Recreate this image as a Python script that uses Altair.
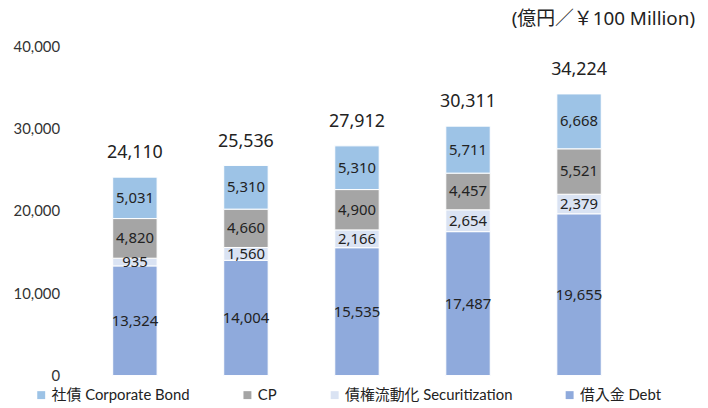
import altair as alt
import pandas as pd

cats = ["1", "2", "3", "4", "5"]
series = ["借入金 Debt", "債権流動化 Securitization", "CP", "社債 Corporate Bond"]
debt = [13324, 14004, 15535, 17487, 19655]
secur = [935, 1560, 2166, 2654, 2379]
cp = [4820, 4660, 4900, 4457, 5521]
bond = [5031, 5310, 5310, 5711, 6668]
totals = [24110, 25536, 27912, 30311, 34224]
legend_order = ["社債 Corporate Bond", "CP", "債権流動化 Securitization", "借入金 Debt"]
legend_colors = ["#9DC3E6", "#A5A5A5", "#DAE3F3", "#8FAADC"]

rows = []
for vals, name, o in zip([debt, secur, cp, bond], series, range(4)):
    for c, v in zip(cats, vals):
        rows.append({"cat": c, "series": name, "ord": o, "value": v})
df = pd.DataFrame(rows)
tdf = pd.DataFrame({"cat": cats, "total": totals,
                    "stacktop": [a + b + c + d for a, b, c, d in zip(debt, secur, cp, bond)]})

FONT = "Noto Sans, Noto Sans CJK JP"
LFONT = "Lato, Noto Sans CJK JP"

xenc = alt.X("cat:N", axis=None, sort=cats,
             scale=alt.Scale(paddingInner=0.6, paddingOuter=0.3))
yscale = alt.Scale(domain=[0, 40000])

base = alt.Chart(df).transform_stack(
    stack="value", as_=["y0", "y1"], groupby=["cat"],
    sort=[alt.SortField("ord", order="ascending")]
).transform_calculate(mid="(datum.y0 + datum.y1) / 2")

bars = base.mark_bar(stroke="white", strokeWidth=1).encode(
    x=xenc,
    y=alt.Y("y0:Q", scale=yscale,
            axis=alt.Axis(values=[0, 10000, 20000, 30000, 40000], format=",d",
                          grid=False, domain=False, ticks=False, title=None,
                          labelFontSize=15, labelColor="#333", labelFont=LFONT,
                          labelPadding=20)),
    y2="y1:Q",
    color=alt.Color("series:N", scale=alt.Scale(domain=legend_order, range=legend_colors),
                    legend=alt.Legend(title=None, orient="none", direction="horizontal",
                                      legendX=-46, legendY=344,
                                      symbolType="square", symbolSize=64,
                                      symbolStrokeWidth=0, symbolOpacity=1,
                                      labelFontSize=15, labelFont=LFONT,
                                      labelColor="#222", labelOffset=3,
                                      labelLimit=300, columnPadding=50)),
)

seg_labels = base.mark_text(fontSize=15, color="#222", font=FONT, baseline="middle").encode(
    x=xenc,
    y=alt.Y("mid:Q", scale=yscale),
    text=alt.Text("value:Q", format=",d"),
)

tot_labels = alt.Chart(tdf).mark_text(fontSize=18, color="#222", font=FONT,
                                     baseline="middle", dy=-24).encode(
    x=xenc,
    y=alt.Y("stacktop:Q", scale=yscale),
    text=alt.Text("total:Q", format=",d"),
)

chart = alt.layer(bars, seg_labels, tot_labels).properties(
    width=560, height=332,
    title=alt.TitleParams(text="(億円／￥100 Million)", anchor="end", fontSize=19,
                          fontWeight="normal", font=FONT, color="#222",
                          dx=34, offset=11),
    autosize=alt.AutoSizeParams(type="none"),
    padding={"left": 72, "top": 37, "right": 66, "bottom": 30},
).configure_view(stroke=None)

chart.save("out.html", embed_options={"renderer": "svg", "actions": False})
